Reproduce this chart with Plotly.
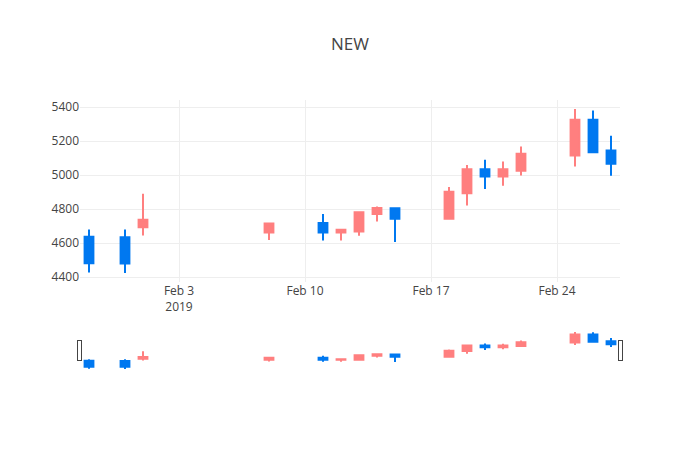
import plotly.graph_objects as go

# datos OHLC
dates = ["2019-01-29", "2019-01-31", "2019-02-01", "2019-02-08", "2019-02-11",
         "2019-02-12", "2019-02-13", "2019-02-14", "2019-02-15", "2019-02-18",
         "2019-02-19", "2019-02-20", "2019-02-21", "2019-02-22", "2019-02-25",
         "2019-02-26", "2019-02-27"]
open_ = [4637, 4635, 4694, 4662, 4718, 4663, 4668, 4772, 4805, 4743,
         4894, 5035, 4992, 5025, 5115, 5325, 5145]
high = [4680, 4680, 4890, 4720, 4771, 4678, 4785, 4815, 4806, 4930,
        5060, 5090, 5080, 5168, 5388, 5380, 5231]
low = [4427, 4425, 4645, 4619, 4615, 4615, 4643, 4727, 4606, 4740,
       4821, 4918, 4937, 4998, 5051, 5131, 4996]
close = [4482, 4480, 4737, 4715, 4662, 4678, 4782, 4806, 4743, 4902,
         5035, 4992, 5035, 5125, 5325, 5135, 5067]

fig = go.Figure(go.Candlestick(
    x=dates, open=open_, high=high, low=low, close=close,
    increasing=dict(line=dict(color="#ff7f7f"), fillcolor="#ff7f7f"),
    decreasing=dict(line=dict(color="#0078f0"), fillcolor="#0078f0"),
))

fig.update_layout(
    template="none",
    title=dict(text="NEW", x=0.5),
    width=700, height=450,
    font=dict(family="Open Sans"),
    xaxis=dict(gridcolor="#eee", rangeslider=dict(visible=True)),
    yaxis=dict(gridcolor="#eee", zeroline=False),
)
# sin margen en el body para que la figura ocupe la ventana
fig.write_html("out.html", config={"displayModeBar": False},
               post_script="document.body.style.margin='0';")
